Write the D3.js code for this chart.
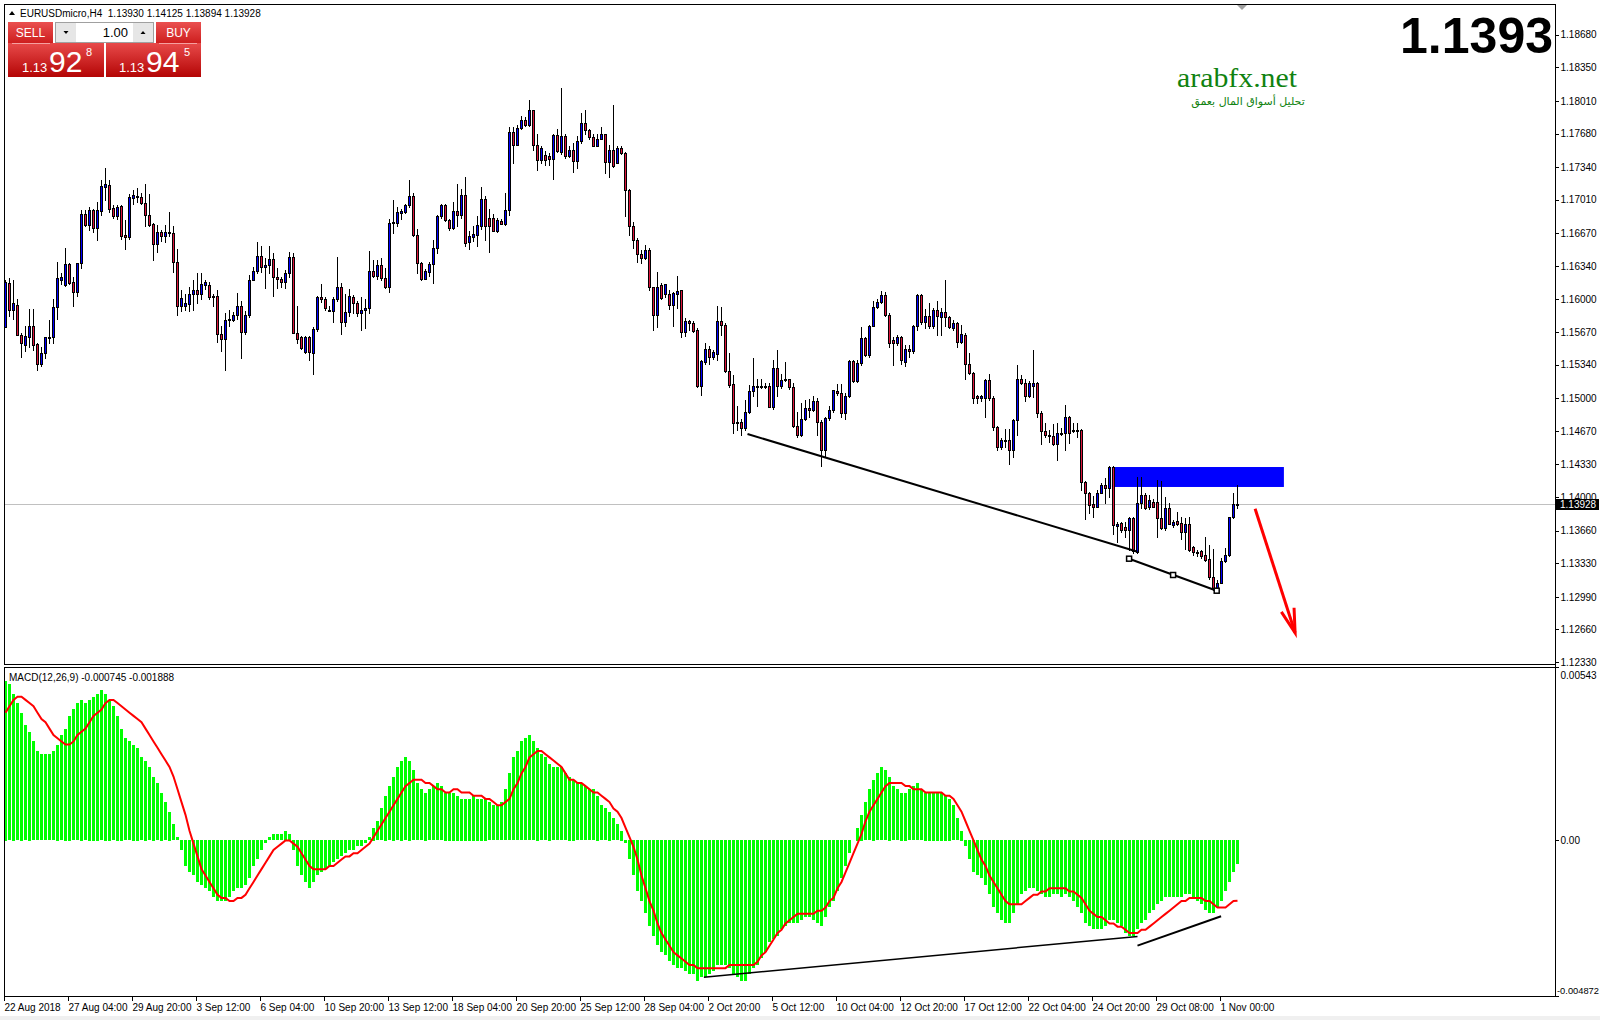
<!DOCTYPE html>
<html><head><meta charset="utf-8">
<script src="https://cdn.jsdelivr.net/npm/d3@7"></script>
<style>
html,body{margin:0;padding:0;background:#fff;}
svg{display:block;}
text{white-space:pre;}
</style></head><body>
<svg id="c" width="1600" height="1020"></svg>
<script>
// ---------- DATA ----------
const opens=[
1.1572,1.1617,1.1589,1.1594,1.1564,1.1554,1.1562,1.1573,1.1555,1.1535,
1.1546,1.1561,1.1562,1.1592,1.1620,1.1615,1.1636,1.1618,1.1608,1.1637,
1.1687,1.1675,1.1691,1.1672,1.1690,1.1714,1.1716,1.1693,1.1684,1.1695,
1.1665,1.1663,1.1703,1.1705,1.1704,1.1698,1.1686,1.1676,1.1656,1.1668,
1.1664,1.1668,1.1667,1.1638,1.1593,1.1593,1.1595,1.1606,1.1610,1.1606,
1.1615,1.1615,1.1604,1.1604,1.1565,1.1560,1.1579,1.1579,1.1584,1.1593,
1.1567,1.1584,1.1620,1.1629,1.1644,1.1633,1.1635,1.1641,1.1623,1.1621,
1.1618,1.1627,1.1643,1.1566,1.1562,1.1547,1.1562,1.1546,1.1570,1.1602,
1.1600,1.1589,1.1588,1.1600,1.1613,1.1577,1.1587,1.1603,1.1596,1.1586,
1.1589,1.1591,1.1629,1.1624,1.1635,1.1622,1.1613,1.1677,1.1677,1.1688,
1.1689,1.1696,1.1705,1.1665,1.1637,1.1621,1.1628,1.1636,1.1652,1.1684,
1.1696,1.1680,1.1672,1.1690,1.1686,1.1706,1.1658,1.1663,1.1665,1.1674,
1.1702,1.1682,1.1682,1.1669,1.1679,1.1676,1.1691,1.1770,1.1756,1.1774,
1.1782,1.1777,1.1792,1.1756,1.1741,1.1746,1.1745,1.1742,1.1766,1.1749,
1.1765,1.1745,1.1751,1.1740,1.1760,1.1779,1.1772,1.1764,1.1755,1.1762,
1.1767,1.1739,1.1751,1.1738,1.1753,1.1748,1.1711,1.1674,1.1660,1.1646,
1.1642,1.1650,1.1613,1.1584,1.1615,1.1606,1.1606,1.1594,1.1606,1.1610,
1.1567,1.1578,1.1576,1.1569,1.1512,1.1537,1.1550,1.1542,1.1545,1.1578,
1.1574,1.1528,1.1514,1.1475,1.1476,1.1470,1.1486,1.1507,1.1511,1.1512,
1.1511,1.1512,1.1491,1.1531,1.1512,1.1518,1.1520,1.1511,1.1472,1.1463,
1.1479,1.1490,1.1488,1.1497,1.1476,1.1448,1.1480,1.1488,1.1507,1.1505,
1.1485,1.1502,1.1538,1.1517,1.1536,1.1561,1.1544,1.1573,1.1592,1.1597,
1.1605,1.1584,1.1559,1.1556,1.1562,1.1537,1.1550,1.1548,1.1573,1.1605,
1.1577,1.1583,1.1573,1.1589,1.1582,1.1587,1.1582,1.1571,1.1576,1.1557,
1.1564,1.1535,1.1526,1.1502,1.1500,1.1500,1.1518,1.1500,1.1471,1.1451,
1.1458,1.1458,1.1448,1.1478,1.1519,1.1515,1.1502,1.1512,1.1515,1.1485,
1.1467,1.1463,1.1462,1.1454,1.1465,1.1465,1.1481,1.1468,1.1467,1.1468,
1.1415,1.1404,1.1393,1.1390,1.1404,1.1412,1.1409,1.1430,1.1371,1.1374,
1.1370,1.1367,1.1379,1.1344,1.1394,1.1402,1.1390,1.1395,1.1395,1.1379,
1.1369,1.1389,1.1372,1.1376,1.1374,1.1365,1.1373,1.1349,1.1344,1.1345,
1.1341,1.1337,1.1319,1.1308,1.1313,1.1335,1.1341,1.1380,1.13930];
const highs=[
1.1620,1.1622,1.1620,1.1600,1.1566,1.1573,1.1590,1.1590,1.1556,1.1552,
1.1562,1.1579,1.1600,1.1638,1.1627,1.1652,1.1637,1.1623,1.1637,1.1691,
1.1691,1.1694,1.1692,1.1699,1.1721,1.1733,1.1721,1.1696,1.1696,1.1696,
1.1680,1.1707,1.1711,1.1713,1.1708,1.1717,1.1707,1.1677,1.1675,1.1670,
1.1675,1.1689,1.1674,1.1651,1.1610,1.1606,1.1613,1.1620,1.1627,1.1627,
1.1620,1.1618,1.1606,1.1610,1.1573,1.1586,1.1589,1.1587,1.1607,1.1598,
1.1588,1.1625,1.1633,1.1658,1.1654,1.1642,1.1654,1.1647,1.1632,1.1623,
1.1630,1.1648,1.1647,1.1593,1.1563,1.1563,1.1563,1.1572,1.1604,1.1616,
1.1603,1.1593,1.1602,1.1643,1.1617,1.1606,1.1611,1.1605,1.1598,1.1603,
1.1600,1.1649,1.1640,1.1640,1.1642,1.1632,1.1681,1.1701,1.1694,1.1692,
1.1697,1.1721,1.1708,1.1671,1.1638,1.1631,1.1638,1.1660,1.1686,1.1697,
1.1697,1.1681,1.1699,1.1717,1.1712,1.1724,1.1669,1.1674,1.1684,1.1714,
1.1705,1.1692,1.1687,1.1682,1.1681,1.1708,1.1775,1.1775,1.1777,1.1786,
1.1785,1.1802,1.1792,1.1767,1.1755,1.1750,1.1748,1.1768,1.1773,1.1814,
1.1767,1.1755,1.1758,1.1765,1.1789,1.1792,1.1773,1.1767,1.1767,1.1775,
1.1767,1.1756,1.1797,1.1755,1.1755,1.1749,1.1712,1.1678,1.1662,1.1650,
1.1655,1.1652,1.1613,1.1628,1.1617,1.1616,1.1610,1.1608,1.1624,1.1610,
1.1581,1.1579,1.1578,1.1571,1.1539,1.1556,1.1553,1.1549,1.1593,1.1592,
1.1576,1.1546,1.1524,1.1492,1.1479,1.1498,1.1513,1.1541,1.1520,1.1520,
1.1515,1.1515,1.1539,1.1549,1.1525,1.1537,1.1520,1.1515,1.1486,1.1495,
1.1498,1.1499,1.1502,1.1500,1.1478,1.1481,1.1492,1.1508,1.1514,1.1514,
1.1505,1.1539,1.1539,1.1539,1.1572,1.1562,1.1574,1.1598,1.1600,1.1609,
1.1608,1.1586,1.1562,1.1564,1.1563,1.1554,1.1554,1.1574,1.1606,1.1606,
1.1590,1.1596,1.1591,1.1598,1.1591,1.1620,1.1583,1.1579,1.1577,1.1574,
1.1566,1.1546,1.1527,1.1503,1.1503,1.1520,1.1525,1.1502,1.1472,1.1460,
1.1469,1.1469,1.1479,1.1534,1.1524,1.1519,1.1517,1.1549,1.1516,1.1487,
1.1475,1.1468,1.1474,1.1475,1.1470,1.1493,1.1482,1.1475,1.1475,1.1469,
1.1416,1.1405,1.1401,1.1407,1.1414,1.1419,1.1431,1.1431,1.1375,1.1375,
1.1375,1.1380,1.1380,1.1420,1.1420,1.1404,1.1402,1.1398,1.1417,1.1416,
1.1400,1.1394,1.1377,1.1385,1.1380,1.1379,1.1380,1.1350,1.1346,1.1346,
1.1360,1.1351,1.1347,1.1316,1.1338,1.1348,1.1380,1.1404,1.14125];
const lows=[
1.1572,1.1583,1.1580,1.1564,1.1542,1.1548,1.1552,1.1549,1.1529,1.1533,
1.1541,1.1556,1.1556,1.1580,1.1616,1.1614,1.1616,1.1593,1.1604,1.1632,
1.1674,1.1670,1.1668,1.1660,1.1686,1.1701,1.1689,1.1682,1.1681,1.1661,
1.1651,1.1661,1.1697,1.1699,1.1697,1.1674,1.1674,1.1640,1.1648,1.1659,
1.1658,1.1664,1.1628,1.1584,1.1588,1.1589,1.1588,1.1589,1.1596,1.1600,
1.1611,1.1600,1.1593,1.1557,1.1548,1.1529,1.1573,1.1578,1.1580,1.1541,
1.1565,1.1582,1.1620,1.1627,1.1628,1.1612,1.1627,1.1604,1.1612,1.1613,
1.1612,1.1623,1.1566,1.1556,1.1550,1.1546,1.1539,1.1525,1.1568,1.1597,
1.1589,1.1588,1.1577,1.1598,1.1565,1.1573,1.1583,1.1586,1.1583,1.1569,
1.1571,1.1586,1.1623,1.1621,1.1620,1.1612,1.1608,1.1667,1.1674,1.1681,
1.1688,1.1694,1.1664,1.1627,1.1620,1.1621,1.1624,1.1617,1.1647,1.1682,
1.1679,1.1670,1.1671,1.1674,1.1682,1.1654,1.1651,1.1659,1.1654,1.1671,
1.1660,1.1648,1.1669,1.1668,1.1676,1.1675,1.1686,1.1738,1.1756,1.1773,
1.1776,1.1776,1.1751,1.1731,1.1738,1.1736,1.1736,1.1722,1.1749,1.1747,
1.1743,1.1744,1.1729,1.1733,1.1758,1.1768,1.1762,1.1755,1.1755,1.1762,
1.1728,1.1724,1.1734,1.1738,1.1747,1.1684,1.1665,1.1652,1.1638,1.1637,
1.1641,1.1610,1.1569,1.1572,1.1600,1.1603,1.1590,1.1573,1.1591,1.1562,
1.1563,1.1569,1.1567,1.1511,1.1503,1.1535,1.1535,1.1540,1.1539,1.1564,
1.1527,1.1511,1.1465,1.1468,1.1463,1.1468,1.1485,1.1502,1.1492,1.1510,
1.1510,1.1491,1.1489,1.1502,1.1510,1.1517,1.1509,1.1471,1.1461,1.1462,
1.1478,1.1481,1.1487,1.1463,1.1431,1.1441,1.1478,1.1486,1.1503,1.1481,
1.1479,1.1501,1.1516,1.1516,1.1534,1.1543,1.1542,1.1573,1.1591,1.1596,
1.1583,1.1552,1.1534,1.1554,1.1535,1.1533,1.1542,1.1546,1.1569,1.1575,
1.1571,1.1571,1.1571,1.1564,1.1564,1.1573,1.1571,1.1569,1.1552,1.1556,
1.1520,1.1525,1.1495,1.1495,1.1497,1.1481,1.1498,1.1468,1.1448,1.1449,
1.1451,1.1433,1.1441,1.1463,1.1514,1.1497,1.1501,1.1501,1.1481,1.1454,
1.1461,1.1456,1.1453,1.1438,1.1463,1.1448,1.1455,1.1466,1.1461,1.1407,
1.1378,1.1384,1.1380,1.1390,1.1404,1.1394,1.1400,1.1363,1.1355,1.1365,
1.1360,1.1346,1.1343,1.1343,1.1389,1.1388,1.1388,1.1390,1.1360,1.1368,
1.1367,1.1373,1.1370,1.1372,1.1358,1.1347,1.1345,1.1341,1.1340,1.1338,
1.1335,1.1317,1.1306,1.1306,1.1313,1.1334,1.1340,1.1379,1.13894];
const closes=[
1.1618,1.1589,1.1596,1.1564,1.1556,1.1563,1.1573,1.1554,1.1535,1.1546,
1.1562,1.1562,1.1592,1.1622,1.1623,1.1636,1.1617,1.1608,1.1637,1.1687,
1.1675,1.1691,1.1672,1.1691,1.1715,1.1717,1.1692,1.1684,1.1694,1.1664,
1.1663,1.1704,1.1706,1.1704,1.1698,1.1686,1.1675,1.1656,1.1668,1.1664,
1.1668,1.1667,1.1638,1.1593,1.1601,1.1596,1.1606,1.1610,1.1606,1.1616,
1.1618,1.1602,1.1603,1.1565,1.1560,1.1579,1.1580,1.1584,1.1593,1.1567,
1.1584,1.1620,1.1629,1.1644,1.1633,1.1635,1.1641,1.1623,1.1621,1.1618,
1.1627,1.1643,1.1566,1.1560,1.1551,1.1562,1.1547,1.1570,1.1602,1.1600,
1.1591,1.1588,1.1600,1.1613,1.1577,1.1587,1.1604,1.1596,1.1586,1.1589,
1.1591,1.1629,1.1624,1.1635,1.1622,1.1613,1.1677,1.1678,1.1689,1.1690,
1.1696,1.1705,1.1665,1.1637,1.1621,1.1629,1.1636,1.1652,1.1684,1.1696,
1.1680,1.1672,1.1690,1.1686,1.1706,1.1657,1.1664,1.1666,1.1675,1.1702,
1.1674,1.1674,1.1669,1.1680,1.1676,1.1691,1.1770,1.1756,1.1774,1.1782,
1.1777,1.1792,1.1756,1.1741,1.1753,1.1741,1.1742,1.1766,1.1750,1.1765,
1.1745,1.1751,1.1740,1.1760,1.1779,1.1772,1.1764,1.1755,1.1762,1.1767,
1.1739,1.1751,1.1735,1.1753,1.1748,1.1711,1.1674,1.1660,1.1646,1.1642,
1.1650,1.1613,1.1584,1.1613,1.1601,1.1616,1.1594,1.1607,1.1609,1.1567,
1.1578,1.1576,1.1568,1.1512,1.1538,1.1550,1.1542,1.1547,1.1578,1.1574,
1.1528,1.1513,1.1475,1.1476,1.1470,1.1486,1.1507,1.1512,1.1512,1.1511,
1.1512,1.1491,1.1531,1.1512,1.1518,1.1520,1.1511,1.1472,1.1463,1.1479,
1.1490,1.1488,1.1497,1.1476,1.1448,1.1480,1.1488,1.1508,1.1505,1.1485,
1.1502,1.1538,1.1517,1.1536,1.1561,1.1544,1.1573,1.1592,1.1597,1.1605,
1.1584,1.1556,1.1556,1.1562,1.1539,1.1550,1.1548,1.1573,1.1605,1.1577,
1.1583,1.1573,1.1589,1.1583,1.1587,1.1582,1.1572,1.1576,1.1557,1.1565,
1.1535,1.1526,1.1500,1.1500,1.1502,1.1518,1.1500,1.1471,1.1451,1.1458,
1.1458,1.1448,1.1478,1.1519,1.1515,1.1502,1.1515,1.1515,1.1485,1.1467,
1.1463,1.1462,1.1454,1.1465,1.1465,1.1481,1.1465,1.1467,1.1468,1.1415,
1.1404,1.1392,1.1390,1.1404,1.1412,1.1409,1.1430,1.1372,1.1373,1.1367,
1.1367,1.1379,1.1345,1.1394,1.1402,1.1389,1.1397,1.1390,1.1379,1.1369,
1.1389,1.1373,1.1375,1.1373,1.1365,1.1373,1.1346,1.1344,1.1343,1.1340,
1.1336,1.1319,1.1308,1.1313,1.1335,1.1341,1.1380,1.1393,1.13928];
// MACD main (histogram) and signal line
const macdHist=[
.0050,.0049,.0046,.0043,.0040,.0036,.0034,.0031,.0028,.0027,
.0027,.0027,.0028,.0030,.0033,.0035,.0039,.0041,.0043,.0044,
.0043,.0044,.0045,.0046,.0047,.0046,.0044,.0042,.0039,.0035,
.0032,.0031,.0030,.0029,.0026,.0025,.0023,.0020,.0018,.0015,
.0012,.0009,.0005,.0001,-.0003,-.0008,-.0010,-.0011,-.0013,-.0014,
-.0015,-.0016,-.0018,-.0019,-.0019,-.0019,-.0018,-.0016,-.0015,-.0015,
-.0014,-.0012,-.0008,-.0006,-.0003,-.0001,.0001,.0002,.0002,.0002,
.0003,.0002,-.0003,-.0008,-.0011,-.0013,-.0015,-.0013,-.0011,-.0010,
-.0009,-.0008,-.0007,-.0006,-.0005,-.0004,-.0003,-.0003,-.0002,-.0002,
-.0001,.0001,.0004,.0006,.0010,.0014,.0017,.0020,.0023,.0025,
.0026,.0025,.0022,.0018,.0016,.0015,.0016,.0017,.0018,.0017,
.0015,.0015,.0015,.0014,.0013,.0013,.0013,.0014,.0013,.0013,
.0013,.0012,.0011,.0011,.0012,.0016,.0021,.0026,.0028,.0031,
.0032,.0033,.0031,.0029,.0027,.0026,.0024,.0023,.0023,.0023,
.0021,.0020,.0019,.0018,.0018,.0017,.0016,.0016,.0014,.0011,
.0010,.0009,.0007,.0005,.0003,-.0001,-.0006,-.0011,-.0016,-.0019,
-.0023,-.0027,-.0030,-.0033,-.0035,-.0036,-.0038,-.0039,-.0040,-.0040,
-.0041,-.0042,-.0042,-.0044,-.0043,-.0043,-.0042,-.0041,-.0039,-.0039,
-.0039,-.0040,-.0042,-.0043,-.0044,-.0044,-.0042,-.0040,-.0039,-.0037,
-.0035,-.0032,-.0031,-.0030,-.0028,-.0027,-.0026,-.0026,-.0026,-.0025,
-.0024,-.0024,-.0025,-.0026,-.0027,-.0024,-.0021,-.0019,-.0016,-.0012,
-.0008,-.0004,.0000,.0004,.0008,.0012,.0016,.0019,.0021,.0023,
.0022,.0020,.0017,.0016,.0015,.0015,.0016,.0017,.0018,.0016,
.0015,.0015,.0015,.0015,.0015,.0014,.0013,.0011,.0007,.0003,
-.0002,-.0006,-.0010,-.0011,-.0012,-.0014,-.0017,-.0021,-.0023,-.0025,
-.0026,-.0026,-.0023,-.0020,-.0017,-.0016,-.0015,-.0015,-.0016,-.0017,
-.0018,-.0018,-.0017,-.0017,-.0018,-.0017,-.0018,-.0019,-.0021,-.0023,
-.0026,-.0027,-.0028,-.0028,-.0028,-.0027,-.0025,-.0025,-.0026,-.0027,
-.0029,-.0030,-.0030,-.0028,-.0026,-.0025,-.0023,-.0022,-.0020,-.0019,
-.0018,-.0018,-.0018,-.0018,-.0018,-.0017,-.0017,-.0018,-.0019,-.0020,
-.0022,-.0023,-.0023,-.0021,-.0019,-.0016,-.0013,-.0010,-.000745];
const macdSignal=[
.0040,.0042,.0044,.0045,.0045,.0044,.0043,.0042,.0040,.0038,
.0037,.0035,.0033,.0032,.0031,.0030,.0030,.0031,.0033,.0034,
.0035,.0037,.0039,.0040,.0041,.0043,.0044,.0044,.0043,.0042,
.0041,.0040,.0039,.0038,.0037,.0035,.0033,.0031,.0029,.0027,
.0025,.0023,.0020,.0016,.0012,.0008,.0003,-.0001,-.0005,-.0009,
-.0011,-.0013,-.0015,-.0017,-.0018,-.0018,-.0019,-.0019,-.0018,-.0018,
-.0017,-.0015,-.0013,-.0011,-.0009,-.0007,-.0005,-.0003,-.0002,-.0001,
.0000,.0000,-.0001,-.0002,-.0004,-.0006,-.0008,-.0009,-.0009,-.0009,
-.0009,-.0008,-.0008,-.0007,-.0006,-.0005,-.0005,-.0004,-.0004,-.0003,
-.0002,-.0001,.0001,.0003,.0005,.0007,.0009,.0011,.0013,.0015,
.0017,.0018,.0019,.0019,.0019,.0018,.0018,.0017,.0016,.0016,
.0015,.0015,.0016,.0016,.0015,.0015,.0015,.0014,.0014,.0014,
.0013,.0013,.0012,.0011,.0011,.0012,.0013,.0016,.0018,.0021,
.0023,.0026,.0027,.0028,.0028,.0027,.0026,.0025,.0024,.0023,
.0021,.0019,.0019,.0018,.0018,.0017,.0016,.0015,.0015,.0014,
.0013,.0012,.0010,.0009,.0007,.0004,.0001,-.0002,-.0006,-.0011,
-.0015,-.0019,-.0022,-.0026,-.0029,-.0031,-.0033,-.0035,-.0036,-.0037,
-.0038,-.0039,-.0039,-.0040,-.0040,-.0040,-.0040,-.0040,-.0040,-.0040,
-.0040,-.0039,-.0039,-.0039,-.0039,-.0039,-.0039,-.0039,-.0038,-.0036,
-.0035,-.0033,-.0031,-.0029,-.0028,-.0026,-.0025,-.0024,-.0023,-.0023,
-.0023,-.0023,-.0023,-.0022,-.0022,-.0021,-.0019,-.0018,-.0015,-.0013,
-.0010,-.0007,-.0004,-.0001,.0002,.0006,.0009,.0011,.0013,.0015,
.0017,.0018,.0018,.0018,.0018,.0017,.0017,.0016,.0016,.0016,
.0015,.0015,.0015,.0015,.0015,.0014,.0014,.0013,.0011,.0009,
.0006,.0003,.0000,-.0003,-.0006,-.0008,-.0011,-.0013,-.0015,-.0017,
-.0019,-.0020,-.0020,-.0020,-.0020,-.0019,-.0018,-.0017,-.0017,-.0016,
-.0016,-.0015,-.0015,-.0015,-.0015,-.0015,-.0016,-.0016,-.0017,-.0018,
-.0020,-.0022,-.0023,-.0024,-.0024,-.0025,-.0026,-.0026,-.0027,-.0027,
-.0028,-.0029,-.0029,-.0029,-.0028,-.0028,-.0027,-.0026,-.0025,-.0024,
-.0023,-.0022,-.0021,-.0020,-.0019,-.0019,-.0018,-.0018,-.0018,-.0018,
-.0019,-.0019,-.0020,-.0021,-.0021,-.0021,-.0020,-.0019,-.001888];
const priceTicks=[1.18680,1.18350,1.18010,1.17680,1.17340,1.17010,1.16670,1.16340,1.16000,1.15670,
1.15340,1.15000,1.14670,1.14330,1.14000,1.13660,1.13330,1.12990,1.12660,1.12330];
const macdTicks=[0.00543,0,-0.004872];
const macdTickLabels=["0.00543","0.00","-0.004872"];
const timeLabels=["22 Aug 2018","27 Aug 04:00","29 Aug 20:00","3 Sep 12:00","6 Sep 04:00","10 Sep 20:00",
"13 Sep 12:00","18 Sep 04:00","20 Sep 20:00","25 Sep 12:00","28 Sep 04:00","2 Oct 20:00","5 Oct 12:00",
"10 Oct 04:00","12 Oct 20:00","17 Oct 12:00","22 Oct 04:00","24 Oct 20:00","29 Oct 08:00","1 Nov 00:00"];
const timeLabelBars=[0,16,32,48,64,80,96,112,128,144,160,176,192,208,224,240,256,272,288,304];
const lastPrice=1.13928;
const bigPrice="1.1393";
const headerText="EURUSDmicro,H4  1.13930 1.14125 1.13894 1.13928";
const macdText="MACD(12,26,9) -0.000745 -0.001888";
// drawn objects (bar index, price / value)
const trendUpperBars=[185.5,283], trendUpperPrices=[1.14638,1.13447];
const trendLowerBars=[280.9,291.9,302.8], trendLowerPrices=[1.13376,1.13211,1.13052];
const zoneBars=[276.6,319.6], zonePrices=[1.14102,1.14304];
const arrowBars=[312.4,322.4], arrowPrices=[1.13881,1.12626];
const macdLineABars=[174.6,283], macdLineAValues=[-0.004283,-0.003006];
const macdLineBBars=[283,303.9], macdLineBValues=[-0.003294,-0.002376];

// ---------- DRAW ----------
const FONT='"Liberation Sans", Arial, sans-serif';
const svg=d3.select('#c');
const N=closes.length;
const idx=d3.range(N);
const L=4,R=1555,T=4,MB=664,MT=667,B=996;
const x=d3.scaleLinear().domain([0,N-1]).range([5.5,5.5+4*(N-1)]);
const yP=d3.scaleLinear().domain([1.12310,1.18991]).range([MB,T]);
const yM=d3.scaleLinear().domain([-0.004872,0.00543]).range([B,MT]);

svg.append('rect').attr('width',1600).attr('height',1020).attr('fill','#fff');
svg.append('rect').attr('x',0).attr('y',1016).attr('width',1600).attr('height',4).attr('fill','#f0f0f0');

const defs=svg.append('defs');
defs.append('clipPath').attr('id','cm').append('rect').attr('x',L+1).attr('y',T+1).attr('width',R-L-1).attr('height',MB-T-1);
defs.append('clipPath').attr('id','cd').append('rect').attr('x',L+1).attr('y',MT+1).attr('width',R-L-1).attr('height',B-MT-1);
const g1=defs.append('linearGradient').attr('id','rg').attr('x1',0).attr('y1',0).attr('x2',0).attr('y2',1);
g1.append('stop').attr('offset','0%').attr('stop-color','#e84a4a');
g1.append('stop').attr('offset','100%').attr('stop-color','#b40505');
const g2=defs.append('linearGradient').attr('id','rg2').attr('x1',0).attr('y1',0).attr('x2',0).attr('y2',1);
g2.append('stop').attr('offset','0%').attr('stop-color','#ea5050');
g2.append('stop').attr('offset','100%').attr('stop-color','#cc1c1c');

// ---- main panel ----
const main=svg.append('g').attr('clip-path','url(#cm)');
main.append('line').attr('x1',L).attr('x2',R).attr('y1',Math.round(yP(lastPrice))+0.5).attr('y2',Math.round(yP(lastPrice))+0.5)
  .attr('stroke','#c0c0c0').attr('stroke-width',1);
main.append('rect').attr('x',x(zoneBars[0])).attr('width',x(zoneBars[1])-x(zoneBars[0]))
  .attr('y',yP(zonePrices[1])).attr('height',yP(zonePrices[0])-yP(zonePrices[1])).attr('fill','#0000ff');

const cg=main.append('g').attr('shape-rendering','crispEdges');
cg.selectAll('line').data(idx).join('line')
  .attr('x1',i=>x(i)).attr('x2',i=>x(i))
  .attr('y1',i=>Math.round(yP(highs[i]))).attr('y2',i=>Math.round(yP(lows[i]))+1)
  .attr('stroke','#000').attr('stroke-width',1);
cg.selectAll('rect').data(idx).join('rect')
  .attr('x',i=>x(i)-1).attr('width',2)
  .attr('y',i=>Math.round(yP(Math.max(opens[i],closes[i])))+0.5)
  .attr('height',i=>Math.max(1,Math.round(yP(Math.min(opens[i],closes[i])))-Math.round(yP(Math.max(opens[i],closes[i])))))
  .attr('fill',i=>closes[i]>opens[i]?'#0000ff':(closes[i]<opens[i]?'#dc143c':'#000'))
  .attr('stroke','#000').attr('stroke-width',1);

// trend lines
main.append('line').attr('x1',x(trendUpperBars[0])).attr('y1',yP(trendUpperPrices[0]))
  .attr('x2',x(trendUpperBars[1])).attr('y2',yP(trendUpperPrices[1])).attr('stroke','#000').attr('stroke-width',2);
main.append('line').attr('x1',x(trendLowerBars[0])).attr('y1',yP(trendLowerPrices[0]))
  .attr('x2',x(trendLowerBars[2])).attr('y2',yP(trendLowerPrices[2])).attr('stroke','#000').attr('stroke-width',2);
main.selectAll('rect.sq').data(d3.range(3)).join('rect').attr('class','sq')
  .attr('x',k=>x(trendLowerBars[k])-2.5).attr('y',k=>yP(trendLowerPrices[k])-2.5)
  .attr('width',5).attr('height',5).attr('fill','#fff').attr('stroke','#000').attr('stroke-width',1.5);
// red arrow
{
  const x0=x(arrowBars[0]),y0=yP(arrowPrices[0]),x1=x(arrowBars[1]),y1=yP(arrowPrices[1]);
  const ang=Math.atan2(y1-y0,x1-x0), hl=25, ha=0.27;
  main.append('line').attr('x1',x0).attr('y1',y0).attr('x2',x1).attr('y2',y1).attr('stroke','#ff0000').attr('stroke-width',3);
  main.append('path').attr('d',`M${x1-hl*Math.cos(ang-ha)},${y1-hl*Math.sin(ang-ha)}L${x1},${y1}L${x1-hl*Math.cos(ang+ha)},${y1-hl*Math.sin(ang+ha)}`)
    .attr('fill','none').attr('stroke','#ff0000').attr('stroke-width',3);
}

// ---- MACD panel ----
const md=svg.append('g').attr('clip-path','url(#cd)');
md.append('g').attr('shape-rendering','crispEdges').selectAll('rect').data(idx).join('rect')
  .attr('x',i=>x(i)-1.5).attr('width',3)
  .attr('y',i=>Math.round(Math.min(yM(macdHist[i]),yM(0))))
  .attr('height',i=>Math.round(Math.abs(yM(macdHist[i])-yM(0))))
  .attr('fill','#00ff00');
md.append('path').datum(idx).attr('d',d3.line().x(i=>x(i)).y(i=>yM(macdSignal[i])))
  .attr('fill','none').attr('stroke','#ff0000').attr('stroke-width',2);
md.append('line').attr('x1',x(macdLineABars[0])).attr('y1',yM(macdLineAValues[0]))
  .attr('x2',x(macdLineABars[1])).attr('y2',yM(macdLineAValues[1])).attr('stroke','#000').attr('stroke-width',1.5);
md.append('line').attr('x1',x(macdLineBBars[0])).attr('y1',yM(macdLineBValues[0]))
  .attr('x2',x(macdLineBBars[1])).attr('y2',yM(macdLineBValues[1])).attr('stroke','#000').attr('stroke-width',2);

// ---- frames ----
const fr=svg.append('g').attr('shape-rendering','crispEdges').attr('fill','none').attr('stroke','#000');
fr.append('rect').attr('x',L+0.5).attr('y',T+0.5).attr('width',R-L).attr('height',MB-T);
fr.append('rect').attr('x',L+0.5).attr('y',MT+0.5).attr('width',R-L).attr('height',B-MT);
fr.append('line').attr('x1',R+0.5).attr('x2',R+0.5).attr('y1',T).attr('y2',B+1);
// shift marker
svg.append('path').attr('d','M1237,5L1247,5L1242,10Z').attr('fill','#a0a0a0');

// ---- axes ----
function styleAxis(g){
  g.select('.domain').remove();
  g.selectAll('line').attr('stroke','#000').attr('shape-rendering','crispEdges');
  g.selectAll('text').attr('fill','#000').attr('font-family',FONT).attr('font-size',10);
}
const ay=svg.append('g').attr('transform',`translate(${R+0.5},0)`)
  .call(d3.axisRight(yP).tickValues(priceTicks).tickFormat(d=>d.toFixed(5)).tickSize(3).tickPadding(2));
styleAxis(ay);
const am=svg.append('g').attr('transform',`translate(${R+0.5},0)`)
  .call(d3.axisRight(yM).tickValues(macdTicks).tickFormat((d,k)=>macdTickLabels[k]).tickSize(3).tickPadding(2));
styleAxis(am);
am.selectAll('.tick').filter(d=>d===macdTicks[0]).select('text').attr('dy','1.1em');
am.selectAll('.tick').filter(d=>d===macdTicks[2]).select('text').attr('dy','-0.3em').attr('x',1.5)
  .attr('font-size',9).attr('textLength',42).attr('lengthAdjust','spacingAndGlyphs');
const ax=svg.append('g').attr('transform',`translate(0,${B+0.5})`)
  .call(d3.axisBottom(x).tickValues(timeLabelBars).tickFormat((d,k)=>timeLabels[k]).tickSize(4).tickPadding(3));
styleAxis(ax);
ax.selectAll('.tick line').attr('transform','translate(-1.5,0)');
ax.selectAll('.tick text').attr('text-anchor','start').attr('x',-1.5);

// last price label
{
  const yy=Math.round(yP(lastPrice));
  svg.append('rect').attr('x',R+1).attr('y',yy-5).attr('width',43).attr('height',11).attr('fill','#000');
  svg.append('text').attr('x',R+5).attr('y',yy+4).attr('fill','#fff').attr('font-family',FONT).attr('font-size',10).text(lastPrice.toFixed(5));
}

// ---- texts ----
svg.append('path').attr('d','M9,15L12,11L15,15Z').attr('fill','#000');
svg.append('text').attr('x',20).attr('y',17).attr('font-family',FONT).attr('font-size',10).attr('fill','#000').text(headerText);
svg.append('text').attr('x',9).attr('y',681).attr('font-family',FONT).attr('font-size',10).attr('fill','#000').text(macdText);
svg.append('text').attr('x',1553).attr('y',53).attr('text-anchor','end').attr('font-family',FONT)
  .attr('font-weight','bold').attr('font-size',50).attr('fill','#000').text(bigPrice);
svg.append('text').attr('x',1177).attr('y',87).attr('font-family','"Liberation Serif", "DejaVu Serif", serif')
  .attr('font-size',27).attr('textLength',120).attr('lengthAdjust','spacingAndGlyphs').attr('fill','#10820f').text('arabfx.net');
svg.append('text').attr('x',1248).attr('y',105).attr('text-anchor','middle').attr('font-family','"DejaVu Sans", sans-serif')
  .attr('font-size',11).attr('fill','#10820f').attr('direction','rtl').text('تحليل أسواق المال بعمق');

// ---- one-click trading panel ----
const tp=svg.append('g').attr('font-family',FONT);
tp.append('rect').attr('x',8).attr('y',22).attr('width',45).attr('height',22).attr('fill','url(#rg2)');
tp.append('rect').attr('x',156).attr('y',22).attr('width',45).attr('height',22).attr('fill','url(#rg2)');
tp.append('rect').attr('x',8).attr('y',43).attr('width',96).attr('height',34).attr('fill','url(#rg)');
tp.append('rect').attr('x',106).attr('y',43).attr('width',95).attr('height',34).attr('fill','url(#rg)');
tp.append('line').attr('x1',12).attr('x2',50).attr('y1',43.5).attr('y2',43.5).attr('stroke','#f5a0a0');
tp.append('line').attr('x1',159).attr('x2',197).attr('y1',43.5).attr('y2',43.5).attr('stroke','#f5a0a0');
tp.append('text').attr('x',30.5).attr('y',37).attr('text-anchor','middle').attr('font-size',12).attr('fill','#fff').text('SELL');
tp.append('text').attr('x',178.5).attr('y',37).attr('text-anchor','middle').attr('font-size',12).attr('fill','#fff').text('BUY');
tp.append('rect').attr('x',55.5).attr('y',22.5).attr('width',98).attr('height',20).attr('fill','#fff').attr('stroke','#a0a0a0');
tp.append('rect').attr('x',56).attr('y',23).attr('width',20).attr('height',19).attr('fill','#e6e6e6');
tp.append('rect').attr('x',133).attr('y',23).attr('width',20).attr('height',19).attr('fill','#e6e6e6');
tp.append('path').attr('d','M63.5,31L68.5,31L66,34Z').attr('fill','#000');
tp.append('path').attr('d','M140.5,34L145.5,34L143,31Z').attr('fill','#000');
tp.append('text').attr('x',128).attr('y',37).attr('text-anchor','end').attr('font-size',13).attr('fill','#000').text('1.00');
tp.append('text').attr('x',22).attr('y',72).attr('font-size',13).attr('fill','#fff').text('1.13');
tp.append('text').attr('x',49).attr('y',72).attr('font-size',30).attr('fill','#fff').text('92');
tp.append('text').attr('x',86).attr('y',56).attr('font-size',11).attr('fill','#fff').text('8');
tp.append('text').attr('x',119).attr('y',72).attr('font-size',13).attr('fill','#fff').text('1.13');
tp.append('text').attr('x',146).attr('y',72).attr('font-size',30).attr('fill','#fff').text('94');
tp.append('text').attr('x',184).attr('y',56).attr('font-size',11).attr('fill','#fff').text('5');
</script>
</body></html>
